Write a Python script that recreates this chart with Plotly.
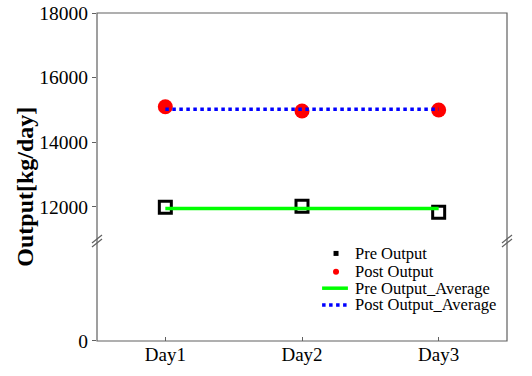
import plotly.graph_objects as go

days = ["Day1", "Day2", "Day3"]
day_pos = [1, 2, 3]
pre_output = [11990, 12020, 11840]
post_output = [15100, 14970, 15000]
pre_avg = sum(pre_output) / len(pre_output)
post_avg = sum(post_output) / len(post_output)
upper_ticks = [12000, 14000, 16000, 18000]
upper_labels = ["12000", "14000", "16000", "18000"]
legend_names = ["Pre Output", "Post Output", "Pre Output_Average", "Post Output_Average"]

FONT = "Liberation Serif"
AX = "#606060"
brk = 0.308

fig = go.Figure()
fig.add_trace(go.Scatter(x=day_pos, y=pre_output, mode="markers", name=legend_names[0],
                         marker=dict(symbol="square-open", size=12, color="black",
                                     line=dict(width=3, color="black")),
                         xaxis="x", yaxis="y", showlegend=False))
fig.add_trace(go.Scatter(x=day_pos, y=post_output, mode="markers", name=legend_names[1],
                         marker=dict(symbol="circle", size=15, color="#ff0000"),
                         xaxis="x", yaxis="y", showlegend=False))
fig.add_trace(go.Scatter(x=[day_pos[0], day_pos[-1]], y=[pre_avg, pre_avg], mode="lines",
                         name=legend_names[2], line=dict(color="#00ff00", width=3.5),
                         xaxis="x", yaxis="y", showlegend=False))
fig.add_trace(go.Scatter(x=[day_pos[0], day_pos[-1]], y=[post_avg, post_avg], mode="lines",
                         name=legend_names[3], line=dict(color="#0000ff", width=3.5, dash="dot"),
                         xaxis="x", yaxis="y", showlegend=False))
fig.add_trace(go.Scatter(x=[None], y=[None], xaxis="x", yaxis="y2", showlegend=False,
                         hoverinfo="skip"))

shapes = [dict(type="rect", xref="paper", yref="paper", x0=0, x1=1, y0=0, y1=1,
               line=dict(color=AX, width=1.2), layer="above")]
for xa in (0, 1):
    for off in (-3, 1):
        shapes.append(dict(type="line", xref="paper", yref="paper",
                           xsizemode="pixel", ysizemode="pixel",
                           xanchor=xa, yanchor=brk,
                           x0=-5, x1=5, y0=off - 4, y1=off + 4,
                           line=dict(color=AX, width=1.2)))

# manual legend (compact, like the reference)
leg_rows = [0.267, 0.211, 0.161, 0.110]
sym_x = 0.583
shapes.append(dict(type="rect", xref="paper", yref="paper", xsizemode="pixel", ysizemode="pixel",
                   xanchor=sym_x, yanchor=leg_rows[0], x0=-2.5, x1=2.5, y0=-2.5, y1=2.5,
                   fillcolor="black", line=dict(width=0)))
shapes.append(dict(type="circle", xref="paper", yref="paper", xsizemode="pixel", ysizemode="pixel",
                   xanchor=sym_x, yanchor=leg_rows[1], x0=-3, x1=3, y0=-3, y1=3,
                   fillcolor="#ff0000", line=dict(width=0)))
shapes.append(dict(type="line", xref="paper", yref="paper", x0=0.549, x1=0.612,
                   y0=leg_rows[2], y1=leg_rows[2], line=dict(color="#00ff00", width=3.5)))
shapes.append(dict(type="line", xref="paper", yref="paper", x0=0.549, x1=0.612,
                   y0=leg_rows[3], y1=leg_rows[3], line=dict(color="#0000ff", width=3.5, dash="dot")))

annotations = [dict(text="<b>Output[kg/day]</b>", xref="paper", yref="paper",
                    x=-0.176, y=0.47, textangle=-90, showarrow=False,
                    font=dict(size=24, family=FONT), xanchor="center", yanchor="middle")]
for name, yr in zip(legend_names, leg_rows):
    annotations.append(dict(text=name, xref="paper", yref="paper", x=0.624, y=yr,
                            xanchor="left", yanchor="middle", showarrow=False,
                            font=dict(size=16.5, family=FONT)))

fig.update_layout(
    width=532, height=376,
    margin=dict(l=97, r=25, t=13, b=35, autoexpand=False),
    paper_bgcolor="white", plot_bgcolor="white",
    font=dict(family=FONT, color="black", size=16),
    showlegend=False,
    xaxis=dict(range=[0.5, 3.5], tickvals=day_pos, ticktext=days, anchor="y2",
               ticks="inside", ticklen=4, tickcolor=AX, showgrid=False, zeroline=False,
               showline=False, automargin=False, tickfont=dict(size=19, family=FONT)),
    yaxis=dict(domain=[brk, 1], range=[10979, 18000], tickvals=upper_ticks, ticktext=upper_labels,
               ticks="outside", ticklen=4, tickcolor=AX, showgrid=False, zeroline=False,
               showline=False, automargin=False, tickfont=dict(size=19.5, family=FONT), anchor="x"),
    yaxis2=dict(domain=[0, brk], range=[0, 1000], tickvals=[0], ticktext=["0"],
                ticks="outside", ticklen=4, tickcolor=AX, showgrid=False, zeroline=False,
                showline=False, automargin=False, tickfont=dict(size=19.5, family=FONT), anchor="x"),
    shapes=shapes,
    annotations=annotations,
)

fig.write_html("out.html", config={"displayModeBar": False},
               post_script="document.body.style.margin='0';")
